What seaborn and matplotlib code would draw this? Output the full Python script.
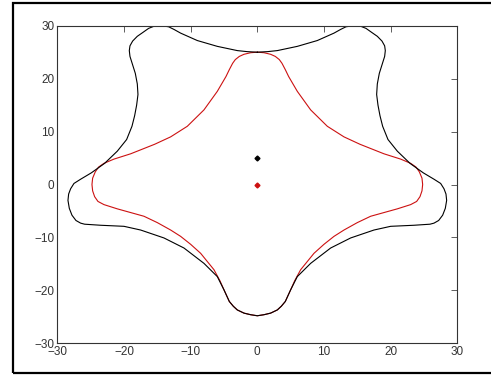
import matplotlib
matplotlib.use("Agg")
import matplotlib.pyplot as plt
from matplotlib.patches import Rectangle
import seaborn as sns
import pandas as pd

# Curve outlines, traced clockwise from the top centre.
# right half first, then the left half back up to the start
black_right_x = [0, 1.5, 3.0, 6.0, 9.0, 11.5, 12.5, 13.3, 14.4, 15.5, 16.3, 17.2, 18.0, 18.7, 19.1, 19.2,
                 19.1, 18.8, 18.3, 18.0, 17.9, 18.1, 18.4, 18.8, 19.6, 21.0, 22.9, 24.9, 26.5, 27.5,
                 28.0, 28.3, 28.4, 28.2, 27.8, 27.2, 26.5, 25.9, 23.5, 20.0, 17.5, 14.0, 11.0, 8.0,
                 6.0, 5.0, 4.2, 3.6, 3.0, 2.0, 1.0, 0]
black_right_y = [25.0, 25.1, 25.3, 26.1, 27.2, 28.6, 29.3, 29.8, 30.0, 29.9, 29.5, 28.7, 28.0, 27.1, 26.2, 25.3,
                 24.2, 23.0, 21.0, 19.0, 17.0, 15.0, 13.0, 11.0, 8.5, 6.3, 4.0, 2.2, 1.0, 0.2,
                 -0.8, -1.8, -3.0, -4.5, -5.8, -6.8, -7.3, -7.5, -7.7, -7.9, -8.6, -10.1, -12.0, -14.9,
                 -17.4, -19.9, -22.1, -23.0, -23.7, -24.3, -24.6, -24.8]
black_left_x = [-1.0, -2.0, -3.0, -3.6, -4.2, -5.0, -6.0, -8.0, -11.0, -14.0, -17.5, -20.0, -23.5, -25.9,
                -26.5, -27.2, -27.8, -28.2, -28.4, -28.3, -28.0, -27.5, -26.5, -24.9, -22.9, -21.0,
                -19.6, -18.8, -18.4, -18.1, -17.9, -18.0, -18.3, -18.8, -19.1, -19.2, -19.1, -18.7,
                -18.0, -17.2, -16.3, -15.5, -14.4, -13.3, -12.5, -11.5, -9.0, -6.0, -3.0, -1.5, 0]
black_left_y = [-24.6, -24.3, -23.7, -23.0, -22.1, -19.9, -17.4, -14.9, -12.0, -10.1, -8.6, -7.9, -7.7, -7.5,
                -7.3, -6.8, -5.8, -4.5, -3.0, -1.8, -0.8, 0.2, 1.0, 2.2, 4.0, 6.3,
                8.5, 11.0, 13.0, 15.0, 17.0, 19.0, 21.0, 23.0, 24.2, 25.3, 26.2, 27.1,
                28.0, 28.7, 29.5, 29.9, 30.0, 29.8, 29.3, 28.6, 27.2, 26.1, 25.3, 25.1, 25.0]

red_right_x = [0, 1.0, 2.0, 2.7, 3.3, 3.7, 4.2, 4.7, 6.0, 8.0, 10.5, 13.0, 15.4, 19.0, 21.5, 23.0,
               23.8, 24.3, 24.7, 24.8, 24.7, 24.4, 23.9, 23.0, 21.0, 17.0, 15.0, 13.0, 11.5, 10.0,
               8.5, 6.5, 5.6, 5.0, 4.2, 3.6, 3.0, 2.0, 1.0, 0]
red_right_y = [25.0, 24.9, 24.6, 24.2, 23.6, 22.9, 21.7, 20.4, 17.6, 14.1, 11.0, 9.0, 7.6, 5.8, 4.8, 4.0,
               3.3, 2.4, 1.2, 0.0, -1.2, -2.3, -3.2, -3.8, -4.6, -6.0, -7.2, -8.6, -9.8, -11.3,
               -13.0, -16.1, -18.2, -19.9, -22.1, -23.0, -23.7, -24.3, -24.6, -24.8]
red_left_x = [-1.0, -2.0, -3.0, -3.6, -4.2, -5.0, -5.6, -6.5, -8.5, -10.0, -11.5, -13.0, -15.0, -17.0,
              -21.0, -23.0, -23.9, -24.4, -24.7, -24.8, -24.7, -24.3, -23.8, -23.0, -21.5, -19.0,
              -15.4, -13.0, -10.5, -8.0, -6.0, -4.7, -4.2, -3.7, -3.3, -2.7, -2.0, -1.0, 0]
red_left_y = [-24.6, -24.3, -23.7, -23.0, -22.1, -19.9, -18.2, -16.1, -13.0, -11.3, -9.8, -8.6, -7.2, -6.0,
              -4.6, -3.8, -3.2, -2.3, -1.2, 0.0, 1.2, 2.4, 3.3, 4.0, 4.8, 5.8,
              7.6, 9.0, 11.0, 14.1, 17.6, 20.4, 21.7, 22.9, 23.6, 24.2, 24.6, 24.9, 25.0]

# Centre points
center_x = [0, 0]
center_y = [5, 0]
center_colors = ["black", "#cc1111"]

ticks = [-30, -20, -10, 0, 10, 20, 30]

sns.set_style("white")
plt.rcParams["font.family"] = ["Liberation Sans", "DejaVu Sans"]

red_df = pd.DataFrame({"x": red_right_x + red_left_x, "y": red_right_y + red_left_y})
black_df = pd.DataFrame({"x": black_right_x + black_left_x, "y": black_right_y + black_left_y})

fig = plt.figure(figsize=(4.91, 3.76), dpi=100)
ax = fig.add_axes([0.1167, 0.0870, 0.8147, 0.8446])

sns.lineplot(data=red_df, x="x", y="y", sort=False, estimator=None, color="#cc1111", lw=0.8, ax=ax)
sns.lineplot(data=black_df, x="x", y="y", sort=False, estimator=None, color="black", lw=0.8, ax=ax)
for cx, cy, cc in zip(center_x, center_y, center_colors):
    ax.plot(cx, cy, marker="D", ms=2.5, color=cc, ls="none")

ax.set_xlim(-30, 30)
ax.set_ylim(-30, 30)
ax.set_xticks(ticks)
ax.set_yticks(ticks)
ax.set_xlabel("")
ax.set_ylabel("")
ax.tick_params(direction="in", length=4, width=0.6, top=True, right=True,
               labelsize=8.5, labelcolor="#333333", color="#444444", pad=2)
for s in ax.spines.values():
    s.set_linewidth(0.8)
    s.set_color("#333333")

# outer frame of the original screenshot
fig.add_artist(Rectangle((0.026, 0.008), 1.0, 0.984, transform=fig.transFigure,
                         fill=False, lw=1.6, ec="black", clip_on=False))

fig.savefig("out.png", dpi=100)
